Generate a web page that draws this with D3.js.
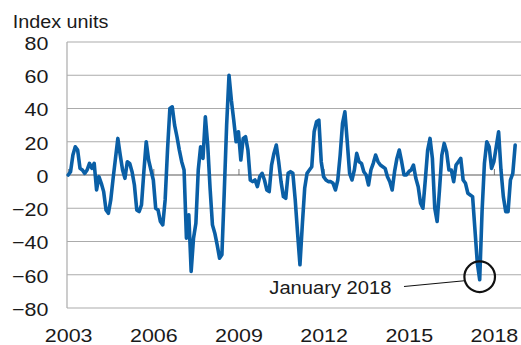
<!DOCTYPE html>
<html>
<head>
<meta charset="utf-8">
<script src="https://cdn.jsdelivr.net/npm/d3@7"></script>
<style>
  html, body { margin: 0; padding: 0; background: #fff; }
  svg { display: block; }
  text { font-family: "Liberation Sans", Arial, Helvetica, sans-serif; fill: #1a1a1a; }
</style>
</head>
<body>
<svg id="chart" width="521" height="345"></svg>
<script>
// Monthly index readings, starting July 2003
const startMonth = "2003-07";
const values = [
  0, 2, 12, 17, 15, 4, 3, 1, 3, 7, 4, 7,
  -9, -1, -5, -10, -21, -23, -15, -2, 10, 22, 12, 3,
  -2, 8, 7, 2, -6, -21, -22, -18, 2, 20, 9, 3,
  -3, -20, -21, -28, -30, -15, 15, 40, 41, 30, 23, 15,
  8, 3, -38, -24, -58, -38, -29, 3, 17, 10, 35, 18,
  -8, -30, -35, -42, -50, -48, -10, 30, 60, 45, 33, 20,
  26, 9, 22, 23, 15, -3, -4, -3, -7, -1, 1, -3,
  -9, -10, 6, 13, 18, 8, -4, -13, -14, 1, 2, 1,
  -15, -35, -54, -30, -8, 1, 3, 5, 26, 32, 33, 8,
  -1, -3, -4, -4, -5, -9, -3, 12, 31, 38, 20, 1,
  -3, 3, 13, 8, 7, 2, 0, -6, 3, 7, 12, 8,
  6, 5, 4, -1, -4, -9, 2, 10, 15, 8, 0, 0,
  2, 3, 6, -2, -7, -17, -20, -3, 15, 22, 10, -20,
  -28, -9, 12, 19, 14, 3, 3, -4, 6, 8, 10, -3,
  -5, -11, -12, -13, -33, -53, -63, -22, 7, 20, 17, 4,
  8, 17, 26, 3, -13, -22, -22, -3, 1, 18
];

// Axis labels
const yTicks = [80, 60, 40, 20, 0, -20, -40, -60, -80];
const xTickIndex = [0, 36, 72, 108, 144, 180];
const xTickLabels = ["2003", "2006", "2009", "2012", "2015", "2018"];
const yTitle = "Index units";

// Annotated month
const noteMonth = "2018-01";
const noteText = "January 2018";

(function draw() {
  // Month index for a "YYYY-MM" string
  const parse = s => { const [yr, m] = s.split("-").map(Number); return yr * 12 + m - 1; };
  const i0 = parse(startMonth);
  const data = values.map((v, i) => ({ i, v }));
  const noteIdx = parse(noteMonth) - i0;

  const svg = d3.select("#chart");
  const pl = 67, pr = 521, pt = 42, pb = 308;
  const step = 2.365;

  const x = d3.scaleLinear()
    .domain([-0.5, values.length - 0.5])
    .range([pl, pl + values.length * step]);
  const y = d3.scaleLinear().domain([-80, 80]).range([pb, pt]);

  const sx = 1.16; // digits are set slightly wide

  // Gridlines
  svg.append("g")
    .selectAll("line")
    .data(yTicks.filter(d => d !== 0))
    .join("line")
    .attr("x1", pl).attr("x2", pr)
    .attr("y1", d => y(d)).attr("y2", d => y(d))
    .attr("stroke", "#ababab").attr("stroke-width", 1.2);

  // Left axis line
  svg.append("line")
    .attr("x1", pl).attr("x2", pl)
    .attr("y1", pt).attr("y2", pb)
    .attr("stroke", "#ababab").attr("stroke-width", 1.2);

  // Zero line with tick marks at labelled months
  const zeroAxis = svg.append("g")
    .attr("transform", `translate(0,${y(0)})`)
    .call(d3.axisBottom(x).tickValues(xTickIndex).tickSize(-6).tickFormat(""));
  zeroAxis.select(".domain").remove();
  zeroAxis.selectAll(".tick line").attr("stroke", "#777").attr("stroke-width", 1);
  svg.append("line")
    .attr("x1", pl).attr("x2", pr)
    .attr("y1", y(0)).attr("y2", y(0))
    .attr("stroke", "#5a5a5a").attr("stroke-width", 1.2);

  // Y axis labels
  const yAxis = svg.append("g")
    .attr("transform", `translate(${pl},0)`)
    .call(d3.axisLeft(y).tickValues(yTicks).tickSize(0).tickPadding(16.1));
  yAxis.select(".domain").remove();
  yAxis.selectAll("text")
    .attr("font-size", "18.5px")
    .attr("font-family", '"Liberation Sans", Arial, sans-serif')
    .attr("fill", "#1a1a1a")
    .attr("dy", "0.4em")
    .attr("transform", `scale(${sx},1)`);

  // X axis labels
  const xAxis = svg.append("g")
    .attr("transform", `translate(0,${pb})`)
    .call(d3.axisBottom(x).tickValues(xTickIndex).tickSize(0).tickPadding(20.4)
      .tickFormat((d, k) => xTickLabels[k]));
  xAxis.select(".domain").remove();
  xAxis.selectAll("text")
    .attr("font-size", "18.5px")
    .attr("font-family", '"Liberation Sans", Arial, sans-serif')
    .attr("fill", "#1a1a1a")
    .attr("transform", `scale(${sx},1)`);

  // Axis title
  svg.append("text")
    .attr("transform", "translate(12.7,28.3) scale(1.07,1)")
    .attr("font-size", "18.5px")
    .text(yTitle);

  // Series line
  svg.append("path")
    .datum(data)
    .attr("fill", "none")
    .attr("stroke", "#0a5fa6")
    .attr("stroke-width", 3.6)
    .attr("stroke-linejoin", "round")
    .attr("stroke-linecap", "round")
    .attr("d", d3.line().x(d => x(d.i)).y(d => y(d.v)));

  // Annotation: circle, leader and label
  const cx = x(noteIdx), cy = y(values[noteIdx]) - 3, r = 15.3;
  svg.append("circle")
    .attr("cx", cx).attr("cy", cy).attr("r", r)
    .attr("fill", "none").attr("stroke", "#111").attr("stroke-width", 2.2);
  svg.append("line")
    .attr("x1", 404).attr("y1", 286.5)
    .attr("x2", cx - r).attr("y2", cy + 4)
    .attr("stroke", "#111").attr("stroke-width", 1.2);
  svg.append("text")
    .attr("transform", "translate(269.3,294) scale(1.09,1)")
    .attr("font-size", "18.5px")
    .text(noteText);
})();
</script>
</body>
</html>
